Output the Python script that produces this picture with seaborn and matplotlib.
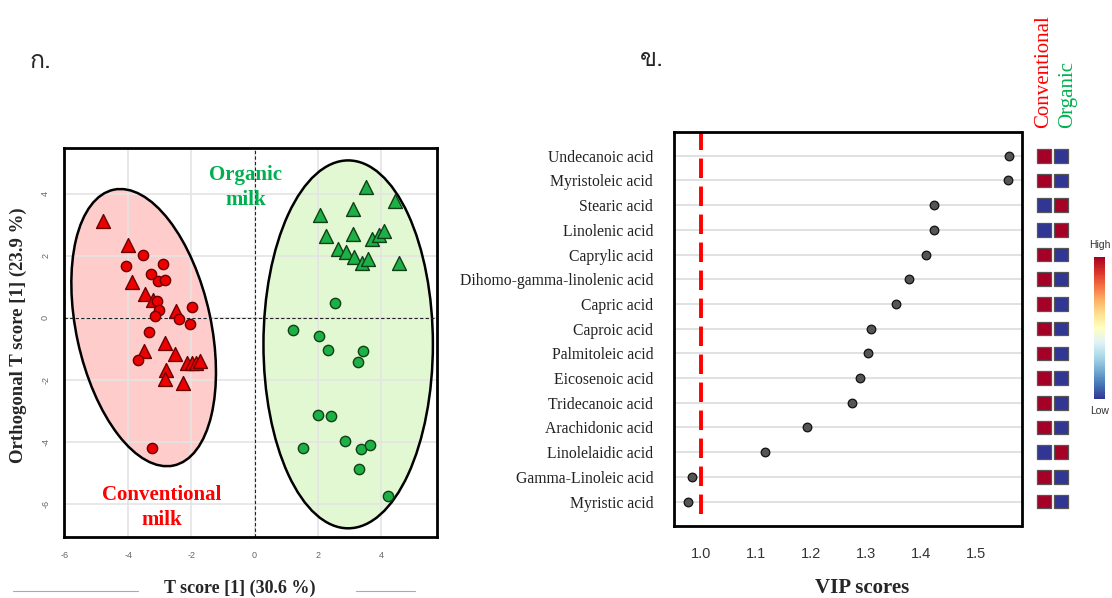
import numpy as np
import pandas as pd
import matplotlib
matplotlib.use("Agg")
import matplotlib.pyplot as plt
import seaborn as sns
from matplotlib.patches import Ellipse
from matplotlib.lines import Line2D
from matplotlib import font_manager

# ---------------- data ----------------
# Panel ก : OPLS-DA scores
conv_tri_x = [-4.80, -3.99, -3.88, -3.46, -3.22, -2.48, -2.85, -3.51, -2.53, -2.14, -1.97, -1.85, -1.74, -2.79, -2.85, -2.28]
conv_tri_y = [3.12, 2.36, 1.15, 0.77, 0.57, 0.21, -0.81, -1.05, -1.16, -1.45, -1.45, -1.45, -1.40, -1.67, -1.97, -2.10]
conv_cir_x = [-3.53, -4.06, -2.90, -3.27, -3.06, -2.82, -3.08, -3.01, -3.15, -1.98, -2.40, -2.03, -3.35, -3.70, -3.25]
conv_cir_y = [2.04, 1.69, 1.74, 1.41, 1.19, 1.23, 0.54, 0.27, 0.05, 0.37, -0.03, -0.18, -0.46, -1.37, -4.19]
org_tri_x = [3.53, 4.45, 2.08, 3.11, 2.27, 3.11, 3.72, 3.92, 4.10, 2.63, 2.89, 3.13, 3.40, 3.58, 4.58]
org_tri_y = [4.21, 3.78, 3.31, 3.52, 2.63, 2.71, 2.55, 2.69, 2.82, 2.23, 2.14, 1.97, 1.77, 1.90, 1.77]
org_cir_x = [2.53, 1.23, 2.03, 2.31, 3.42, 3.26, 2.01, 2.42, 2.85, 1.52, 3.37, 3.66, 3.31, 4.21]
org_cir_y = [0.48, -0.40, -0.59, -1.02, -1.05, -1.42, -3.12, -3.16, -3.98, -4.19, -4.22, -4.11, -4.86, -5.75]

score_ticks = [-6, -4, -2, 0, 2, 4]

# Panel ข : VIP scores
compounds = ["Undecanoic acid", "Myristoleic acid", "Stearic acid", "Linolenic acid",
             "Caprylic acid", "Dihomo-gamma-linolenic acid", "Capric acid", "Caproic acid",
             "Palmitoleic acid", "Eicosenoic acid", "Tridecanoic acid", "Arachidonic acid",
             "Linolelaidic acid", "Gamma-Linoleic acid", "Myristic acid"]
vip = [1.561, 1.558, 1.424, 1.423, 1.410, 1.379, 1.354, 1.310, 1.303, 1.289, 1.275,
       1.192, 1.116, 0.983, 0.977]
vip_ticks = [1.0, 1.1, 1.2, 1.3, 1.4, 1.5]
vip_threshold = 1.0
# relative level (1 = high, 0 = low)
level_conventional = [1, 1, 0, 0, 1, 1, 1, 1, 1, 1, 1, 1, 0, 1, 1]
level_organic = [0, 0, 1, 1, 0, 0, 0, 0, 0, 0, 0, 0, 1, 0, 0]
groups = ["Conventional", "Organic"]

# ---------------- style ----------------
sns.set_style("white")
plt.rcParams["font.family"] = ["Liberation Serif", "DejaVu Serif"]


def find_thai_font():
    try:
        from fontTools.ttLib import TTFont
    except Exception:
        return None
    for f in font_manager.fontManager.ttflist:
        try:
            tt = TTFont(f.fname, fontNumber=0, lazy=True)
            cmap = tt.getBestCmap()
            if cmap and 0x0E01 in cmap and 0x0E02 in cmap:
                return f.name
        except Exception:
            continue
    return None


thai = find_thai_font()
thai_family = [thai, "DejaVu Sans"] if thai else ["DejaVu Sans"]

W, H = 1112, 598
fig = plt.figure(figsize=(W / 100, H / 100), dpi=100)


def fr(x0, y0, x1, y1):
    return [x0 / W, 1 - y1 / H, (x1 - x0) / W, (y1 - y0) / H]


RED = "#FF0000"
GREEN = "#00B050"

# ---------------- panel ก ----------------
ax1 = fig.add_axes(fr(64, 148, 437, 537))
ax1.set_xlim(-6.03, 5.77)
ax1.set_ylim(-7.06, 5.48)
ax1.set_axisbelow(True)
ax1.grid(True, color="#E4E4E4", lw=1.2)

for (cx, cy, w, h, ang, fc) in [(-3.51, -0.31, 4.26, 9.09, 12, "#FFCCCC"),
                                (2.96, -0.85, 5.36, 11.86, 0, "#E1F8D2")]:
    ax1.add_patch(Ellipse((cx, cy), w, h, angle=ang, facecolor=fc, edgecolor="none", zorder=0.3))
    ax1.add_patch(Ellipse((cx, cy), w, h, angle=ang, facecolor="none", edgecolor="black", lw=1.8, zorder=1.5))

ax1.axhline(0, color="#222222", lw=0.8, ls=(0, (3, 2)), zorder=1.6)
ax1.axvline(0, color="#222222", lw=0.8, ls=(0, (3, 2)), zorder=1.6)

sns.scatterplot(x=conv_tri_x, y=conv_tri_y, marker="^", s=100, color="#EE0000",
                edgecolor="#6A0000", linewidth=1.0, ax=ax1, zorder=3)
sns.scatterplot(x=conv_cir_x, y=conv_cir_y, marker="o", s=55, color="#EE0000",
                edgecolor="#6A0000", linewidth=1.0, ax=ax1, zorder=3)
sns.scatterplot(x=org_tri_x, y=org_tri_y, marker="^", s=100, color="#1DB045",
                edgecolor="#103F18", linewidth=1.0, ax=ax1, zorder=3)
sns.scatterplot(x=org_cir_x, y=org_cir_y, marker="o", s=55, color="#1DB045",
                edgecolor="#103F18", linewidth=1.0, ax=ax1, zorder=3)

ax1.set_xticks(score_ticks)
ax1.set_xticklabels([str(t) for t in score_ticks], family="Liberation Sans")
ax1.set_yticks(score_ticks)
ax1.set_yticklabels([str(t) for t in score_ticks], rotation=90, va="center", family="Liberation Sans")
ax1.tick_params(axis="both", length=4, width=0.8, color="#777777", labelsize=6.5,
                labelcolor="#666666", pad=6)
for sp in ax1.spines.values():
    sp.set_linewidth(2.0)
    sp.set_color("black")

ax1.set_xlabel("T score [1] (30.6 %)", fontsize=13, fontweight="bold")
ax1.xaxis.set_label_coords(0.472, -0.131)
ax1.xaxis.label.set_va("center")
ax1.set_ylabel("Orthogonal T score [1] (23.9 %)", fontsize=13.5, fontweight="bold")
ax1.yaxis.set_label_coords(-0.123, 0.52)
ax1.yaxis.label.set_va("center")

ax1.text(-0.29, 4.2, "Organic\nmilk", color=GREEN, fontsize=15, fontweight="bold",
         ha="center", va="center", linespacing=1.3, zorder=4)
ax1.text(-2.95, -6.11, "Conventional\nmilk", color=RED, fontsize=15, fontweight="bold",
         ha="center", va="center", linespacing=1.3, zorder=4)

# ---------------- panel ข ----------------
ax2 = fig.add_axes(fr(674, 132.3, 1021.5, 526))
sns.stripplot(x=vip, y=compounds, orient="h", jitter=False, color="#555555",
              edgecolor="#111111", linewidth=0.9, size=6.2, ax=ax2, zorder=3)
ax2.set_xlim(0.951, 1.583)
ax2.set_ylim(14.99, -0.95)
ax2.set_axisbelow(True)
ax2.xaxis.grid(False)
ax2.yaxis.grid(True, color="#D8D8D8", lw=1.1)
ax2.axvline(vip_threshold, ymin=0.03, ymax=0.997, color="#FF0000", lw=2.8,
            ls=(0, (5.0, 2.2)), zorder=2)
ax2.set_xticks(vip_ticks)
ax2.set_xticklabels([f"{t:.1f}" for t in vip_ticks], family="Liberation Sans")
ax2.tick_params(axis="x", length=6, width=1.0, color="#444444", labelsize=10.5,
                labelcolor="#333333", pad=9)
ax2.tick_params(axis="y", length=0, labelsize=11.3, labelcolor="#222222", pad=15)
for sp in ax2.spines.values():
    sp.set_linewidth(2.0)
    sp.set_color("black")
ax2.set_xlabel("VIP scores", fontsize=15, fontweight="bold")
ax2.xaxis.set_label_coords(0.541, -0.157)
ax2.xaxis.label.set_va("center")
ax2.set_ylabel("")

# heat-map cells
cmap = plt.get_cmap("RdYlBu_r")
heat = pd.DataFrame({
    "compound": compounds * 2,
    "group": [groups[0]] * len(compounds) + [groups[1]] * len(compounds),
    "level": level_conventional + level_organic,
})
axh = fig.add_axes(fr(1035, 132.3, 1070, 526))
sns.scatterplot(data=heat, x="group", y="compound", hue="level",
                palette={1: cmap(1.0), 0: cmap(0.0)}, marker="s", s=96,
                edgecolor="#555555", linewidth=0.9, legend=False, ax=axh)
axh.set_xlim(-0.5, 1.5)
axh.set_ylim(14.99, -0.95)
axh.axis("off")

# colour bar
cax = fig.add_axes(fr(1094, 257, 1105, 399))
sm = matplotlib.cm.ScalarMappable(cmap=cmap, norm=matplotlib.colors.Normalize(0, 1))
cb = fig.colorbar(sm, cax=cax)
cb.outline.set_visible(False)
cb.set_ticks([])
fig.text(1100 / W, 1 - 245 / H, "High", ha="center", va="center", fontsize=7.5,
         family="Liberation Sans", color="#333333")
fig.text(1100 / W, 1 - 411 / H, "Low", ha="center", va="center", fontsize=7.5,
         family="Liberation Sans", color="#333333")

fig.text(1044 / W, 1 - 128 / H, "Conventional", rotation=90, ha="center", va="bottom",
         fontsize=15, color=RED)
fig.text(1068 / W, 1 - 128 / H, "Organic", rotation=90, ha="center", va="bottom",
         fontsize=15, color=GREEN)

# panel labels
fig.text(30 / W, 1 - 62 / H, "ก.", fontsize=18, family=thai_family, ha="left", va="center")
fig.text(640 / W, 1 - 60 / H, "ข.", fontsize=18, family=thai_family, ha="left", va="center")

# page rules under the left axis label
for x0, x1 in [(13, 138), (356, 415)]:
    fig.add_artist(Line2D([x0 / W, x1 / W], [1 - 591 / H, 1 - 591 / H], color="#AAAAAA", lw=0.8))

fig.savefig("out.png", dpi=100)
